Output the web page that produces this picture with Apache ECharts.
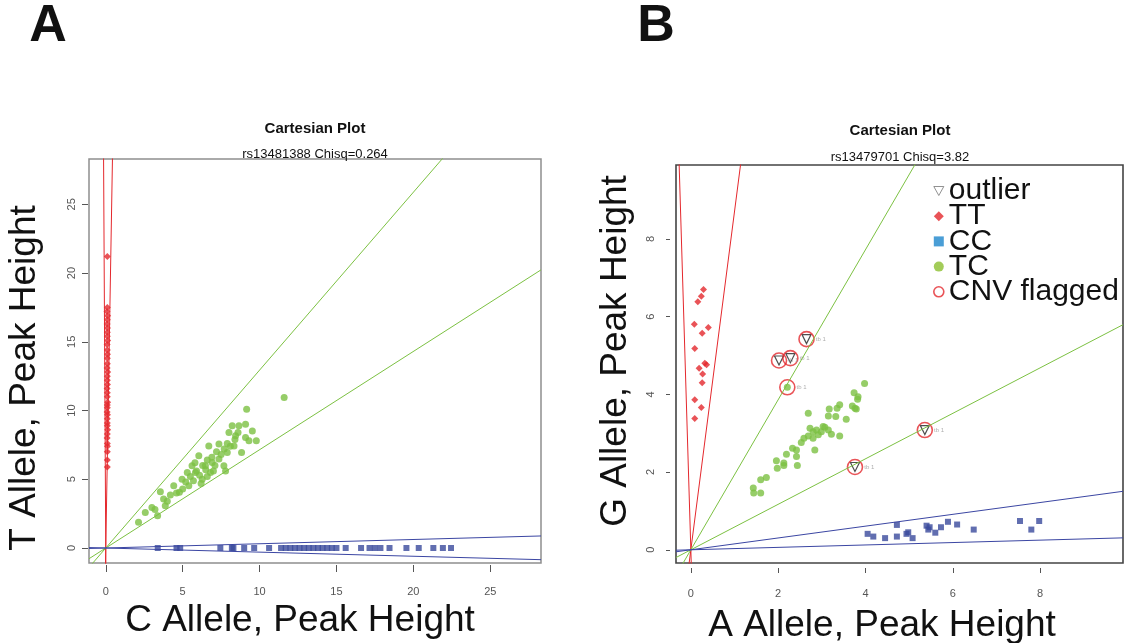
<!DOCTYPE html>
<html lang="en">

<head>
  <meta charset="UTF-8">
  <title>Cartesian Plot</title>
  <script src="https://cdn.jsdelivr.net/npm/echarts@6/dist/echarts.min.js"></script>
  <style>
    html, body {
      margin: 0;
      padding: 0;
      background: #fff;
    }

    #chart {
      width: 1126px;
      height: 643px;
    }
  </style>
</head>

<body>
<div id="chart"></div>
</body>

<script>
  // ---- panel A : rs13481388 ----
  let extA = [-1.09, 28.3];
  let ticksA = [0, 5, 10, 15, 20, 25];
  let redSlopesA = [-200, 65];
  let greenSlopesA = [1.294, 0.715];
  let blueSlopesA = [0.031, -0.03];
  let ttA = [[0.1, 21.2], [0.1, 17.5], [0.08, 17.2], [0.12, 16.9], [0.1, 16.6], [0.09, 16.3], [0.11, 16.0],
    [0.1, 15.7], [0.1, 15.4], [0.12, 15.1], [0.09, 14.8], [0.1, 14.4], [0.11, 14.1], [0.1, 13.8], [0.1, 13.4],
    [0.09, 13.1], [0.12, 12.8], [0.1, 12.5], [0.1, 12.2], [0.11, 11.9], [0.09, 11.6], [0.1, 11.3], [0.1, 11.0],
    [0.12, 10.6], [0.1, 10.4], [0.1, 10.2], [0.09, 9.9], [0.11, 9.7], [0.1, 9.4], [0.1, 9.1], [0.1, 8.9],
    [0.12, 8.6], [0.1, 8.3], [0.09, 8.0], [0.1, 7.6], [0.11, 7.4], [0.1, 7.0], [0.1, 6.4], [0.1, 5.9]];
  let ccAx = [3.38, 4.6, 4.84, 7.45, 8.2, 8.3, 9.0, 9.65, 10.62, 11.4, 11.7, 12.0, 12.3, 12.6, 12.9, 13.2,
    13.5, 13.8, 14.1, 14.4, 14.7, 15.0, 15.6, 16.6, 17.15, 17.5, 17.86, 18.45, 19.55, 20.35, 21.3, 21.92, 22.45];
  let tcA = [[2.13, 1.87], [2.57, 2.59], [3.37, 2.35], [3.0, 2.95], [3.2, 2.8], [3.55, 4.09], [3.76, 3.56],
    [3.87, 3.07], [4.0, 3.4], [4.2, 3.85], [4.42, 4.53], [4.6, 4.0], [4.79, 4.05], [4.96, 5.01], [5.0, 4.3],
    [5.2, 4.8], [5.3, 5.5], [5.4, 4.53], [5.5, 5.2], [5.61, 5.98], [5.7, 4.9], [5.83, 5.5], [5.8, 6.2],
    [5.9, 5.6], [6.05, 6.71], [6.1, 5.3], [6.2, 4.7], [6.27, 5.01], [6.3, 6.0], [6.48, 5.98], [6.5, 5.7],
    [6.6, 6.4], [6.6, 5.2], [6.7, 7.43], [6.81, 5.5], [6.9, 6.6], [6.92, 6.23], [7.0, 5.6], [7.1, 6.0],
    [7.2, 7.0], [7.36, 7.56], [7.36, 6.47], [7.5, 6.8], [7.68, 5.98], [7.7, 7.2], [7.79, 5.6], [7.9, 6.95],
    [7.9, 7.6], [8.01, 8.41], [8.1, 7.4], [8.22, 8.89], [8.34, 7.43], [8.4, 7.9], [8.44, 8.16], [8.6, 8.4],
    [8.66, 8.89], [8.83, 6.95], [9.09, 9.01], [9.09, 8.04], [9.16, 10.1], [9.31, 7.8], [9.53, 8.52],
    [9.79, 7.8], [11.6, 10.95]];

  // ---- panel B : rs13479701 ----
  let extB = [-0.34, 9.9];
  let ticksB = [0, 2, 4, 6, 8];
  let redSlopesB = [-37, 8.7];
  let greenSlopesB = [1.93, 0.585];
  let blueSlopesB = [0.152, 0.031];
  let ttB = [[0.29, 6.7], [0.24, 6.52], [0.16, 6.38], [0.08, 5.8], [0.26, 5.57], [0.4, 5.72], [0.09, 5.18],
    [0.19, 4.67], [0.32, 4.8], [0.27, 4.52], [0.36, 4.76], [0.26, 4.3], [0.09, 3.86], [0.24, 3.66], [0.09, 3.38]];
  let ccB = [[4.05, 0.41], [4.18, 0.34], [4.45, 0.3], [4.72, 0.64], [4.72, 0.34], [4.94, 0.41], [4.98, 0.45],
    [5.08, 0.3], [5.4, 0.62], [5.44, 0.52], [5.47, 0.58], [5.6, 0.44], [5.73, 0.58], [5.89, 0.72], [6.1, 0.65],
    [6.48, 0.52], [7.54, 0.74], [7.8, 0.52], [7.98, 0.74]];
  let tcB = [[1.43, 1.59], [1.44, 1.46], [1.6, 1.46], [1.6, 1.8], [1.73, 1.86], [1.96, 2.29], [1.98, 2.1],
    [2.13, 2.23], [2.13, 2.17], [2.19, 2.46], [2.21, 4.18], [2.33, 2.61], [2.42, 2.57], [2.42, 2.4],
    [2.44, 2.17], [2.53, 2.76], [2.59, 2.87], [2.69, 3.51], [2.69, 2.93], [2.73, 3.13], [2.8, 3.04],
    [2.8, 2.87], [2.84, 2.57], [2.88, 3.08], [2.92, 2.96], [2.99, 3.04], [3.03, 3.17], [3.07, 3.15],
    [3.15, 3.08], [3.22, 2.97], [3.15, 3.44], [3.17, 3.62], [3.32, 3.43], [3.35, 3.64], [3.41, 3.73],
    [3.41, 2.93], [3.56, 3.36], [3.7, 3.7], [3.76, 3.64], [3.79, 3.62], [3.74, 4.04], [3.82, 3.87],
    [3.83, 3.94], [3.98, 4.28]];
  let outlierB = [[2.02, 4.87], [2.28, 4.93], [2.65, 5.42], [5.36, 3.08], [3.76, 2.13]];
  let cnvB = [[2.02, 4.87], [2.28, 4.93], [2.65, 5.42], [2.21, 4.18], [5.36, 3.08], [3.76, 2.13]];

  const FONT = '"Liberation Sans", Arial, sans-serif';
  const RED = '#e4282d', GREEN = '#7cc142', NAVY = '#3a4a9c', BLUE_LINE = '#3b46a3';

  // straight line through the origin, drawn across the whole axis range
  function abline(slope, ext, color, gi) {
    return {
      type: 'line', xAxisIndex: gi, yAxisIndex: gi, symbol: 'none', silent: true, animation: false,
      clip: true,
      lineStyle: {color: color, width: 1},
      data: [[ext[0], slope * ext[0]], [ext[1], slope * ext[1]]]
    };
  }

  function axis(gi, ext, ticks, isX, o) {
    return {
      type: 'value', gridIndex: gi, min: ext[0], max: ext[1], offset: o.offset,
      axisLine: {show: false, onZero: false},
      splitLine: {show: false},
      axisTick: {show: true, length: o.tick, customValues: ticks, lineStyle: {color: '#555', width: 1}},
      axisLabel: {
        customValues: ticks, margin: o.margin, rotate: isX ? 0 : 90,
        fontSize: 11, color: '#555', fontFamily: FONT
      }
    };
  }

  function text(str, x, y, font, extra) {
    return Object.assign({
      type: 'text', x: x, y: y,
      style: {text: str, font: font + ' ' + FONT, fill: '#111', align: 'center', verticalAlign: 'middle'}
    }, extra || {});
  }

  let series = [];
  redSlopesA.forEach(s => series.push(abline(s, extA, RED, 0)));
  greenSlopesA.forEach(s => series.push(abline(s, extA, GREEN, 0)));
  blueSlopesA.forEach(s => series.push(abline(s, extA, BLUE_LINE, 0)));
  redSlopesB.forEach(s => series.push(abline(s, extB, RED, 1)));
  greenSlopesB.forEach(s => series.push(abline(s, extB, GREEN, 1)));
  blueSlopesB.forEach(s => series.push(abline(s, extB, BLUE_LINE, 1)));

  series.push(
    {name: 'TT', type: 'scatter', xAxisIndex: 0, yAxisIndex: 0, symbol: 'diamond', symbolSize: 7,
      itemStyle: {color: RED}, data: ttA},
    {name: 'CC', type: 'scatter', xAxisIndex: 0, yAxisIndex: 0, symbol: 'rect', symbolSize: 6,
      itemStyle: {color: NAVY}, data: ccAx.map(x => [x, 0])},
    {name: 'TC', type: 'scatter', xAxisIndex: 0, yAxisIndex: 0, symbol: 'circle', symbolSize: 7,
      itemStyle: {color: GREEN}, data: tcA},
    {name: 'TT', type: 'scatter', xAxisIndex: 1, yAxisIndex: 1, symbol: 'diamond', symbolSize: 7,
      itemStyle: {color: RED}, data: ttB},
    {name: 'CC', type: 'scatter', xAxisIndex: 1, yAxisIndex: 1, symbol: 'rect', symbolSize: 6,
      itemStyle: {color: NAVY}, data: ccB},
    {name: 'TC', type: 'scatter', xAxisIndex: 1, yAxisIndex: 1, symbol: 'circle', symbolSize: 7,
      itemStyle: {color: GREEN}, data: tcB},
    {name: 'outlier', type: 'scatter', xAxisIndex: 1, yAxisIndex: 1, symbol: 'triangle', symbolRotate: 180,
      symbolSize: 9, itemStyle: {color: '#fff', borderColor: '#222', borderWidth: 1.2}, data: outlierB},
    {name: 'CNV flagged', type: 'scatter', xAxisIndex: 1, yAxisIndex: 1, symbol: 'circle', symbolSize: 15,
      itemStyle: {color: 'rgba(0,0,0,0)', borderColor: RED, borderWidth: 1.6},
      label: {show: true, position: 'right', distance: 1, formatter: 'tb 1', fontSize: 6, color: '#999',
        fontFamily: FONT},
      data: cnvB}
  );

  let chart = echarts.init(document.getElementById('chart'));
  chart.setOption({
    animation: false,
    backgroundColor: '#fff',
    grid: [
      {left: 89, top: 159, width: 452, height: 404, show: true, borderColor: '#8f8f8f', borderWidth: 1.5},
      {left: 676, top: 165, width: 447, height: 398, show: true, borderColor: '#444', borderWidth: 1.6}
    ],
    xAxis: [
      axis(0, extA, ticksA, true, {offset: 2, tick: 7, margin: 21}),
      axis(1, extB, ticksB, true, {offset: 5, tick: 5, margin: 20})
    ],
    yAxis: [
      axis(0, extA, ticksA, false, {offset: 1, tick: 6, margin: 11}),
      axis(1, extB, ticksB, false, {offset: 6, tick: 4, margin: 14})
    ],
    legend: {
      orient: 'vertical', left: 928, top: 171, itemWidth: 10, itemHeight: 10, itemGap: -4.8,
      selectedMode: false,
      textStyle: {fontSize: 30, color: '#111', fontFamily: FONT},
      data: [
        {name: 'outlier', icon: 'path://M0,0 L10,0 L5,9 Z',
          itemStyle: {color: '#fff', borderColor: '#777', borderWidth: 1}},
        {name: 'TT', icon: 'diamond', itemStyle: {color: RED}},
        {name: 'CC', icon: 'rect', itemStyle: {color: '#1d86cc'}},
        {name: 'TC', icon: 'circle', itemStyle: {color: '#8cbf2f'}},
        {name: 'CNV flagged', icon: 'circle',
          itemStyle: {color: '#fff', borderColor: RED, borderWidth: 1.6}}
      ]
    },
    graphic: [
      text('A', 48, 27, 'bold 52px'),
      text('B', 656, 27, 'bold 52px'),
      text('Cartesian Plot', 315, 129, 'bold 15px'),
      text('Cartesian Plot', 900, 131, 'bold 15px'),
      text('rs13481388 Chisq=0.264', 315, 154, '13px'),
      text('rs13479701 Chisq=3.82', 900, 157, '13px'),
      text('C Allele, Peak Height', 300, 621, '37px'),
      text('A Allele, Peak Height', 882, 626, '37px'),
      text('T Allele, Peak Height', 25, 378, '37px', {rotation: Math.PI / 2}),
      text('G Allele, Peak Height', 616, 351, '37px', {rotation: Math.PI / 2})
    ],
    series: series
  });
</script>

</html>
